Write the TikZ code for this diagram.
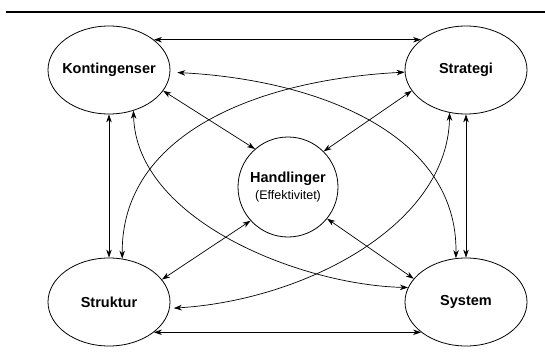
\documentclass[tikz,border=0pt]{standalone}
\usepackage{fontspec}
\setmainfont{Liberation Sans}
\usetikzlibrary{arrows.meta}
\usetikzlibrary{shapes.geometric}

\begin{document}
\begin{tikzpicture}[x=1pt,y=-1pt]

            \tikzstyle{blobNode} = [draw, ellipse, line width=0.8pt, inner sep=0pt, minimum width=122pt, minimum height=88pt, label={[font=\fontsize{14.5}{17}\selectfont\bfseries]center:#1}];
            \tikzstyle{centerNode} = [draw, circle, line width=0.8pt, inner sep=0pt, minimum size=100pt, align=center];
            \tikzstyle{linkEdge} = [<->, line width=0.7pt, >={Stealth[length=8pt,width=5.5pt,inset=2.5pt]}];
            \tikzstyle{ruleLine} = [line width=1.6pt];

            \useasboundingbox (0,0) rectangle (545,361);

            \coordinate (ruleA) at (6,12);
            \coordinate (ruleB) at (545,12);
            \draw[ruleLine] (ruleA) -- (ruleB);

            \node[blobNode=Kontingenser] (kont) at (109,70) {};
            \node[blobNode=Strategi] (strat) at (466,70) {};
            \node[blobNode=Struktur] (strukt) at (109,302) {};
            \node[blobNode=System] (sys) at (466,302) {};
            \node[centerNode] (hand) at (288,187) {{\fontsize{14.5}{17}\selectfont\bfseries Handlinger}\\[3.5pt]{\fontsize{12.5}{15}\selectfont (Effektivitet)}};

            \draw[linkEdge] (kont.34) -- (strat.146);
            \draw[linkEdge] (strukt.-34) -- (sys.-146);
            \draw[linkEdge] (kont.south) -- (strukt.north);
            \draw[linkEdge] (strat.south) -- (sys.north);

            \draw[linkEdge] (kont.-21) -- (hand.131);
            \draw[linkEdge] (strat.201) -- (hand.45);
            \draw[linkEdge] (strukt.23) -- (hand.222);
            \draw[linkEdge] (sys.156) -- (hand.-39);

            \draw[linkEdge, shorten <=7pt] (kont.-2) .. controls (320,80) and (458,135) .. (sys.103);
            \draw[linkEdge] (strat.182) .. controls (255,80) and (121,135) .. (strukt.73);
            \draw[linkEdge] (kont.-59) .. controls (136,220) and (300,285) .. (sys.166);
            \draw[linkEdge, shorten >=4pt] (strat.-111) .. controls (448,225) and (305,300) .. (strukt.-6);

\end{tikzpicture}
\end{document}
